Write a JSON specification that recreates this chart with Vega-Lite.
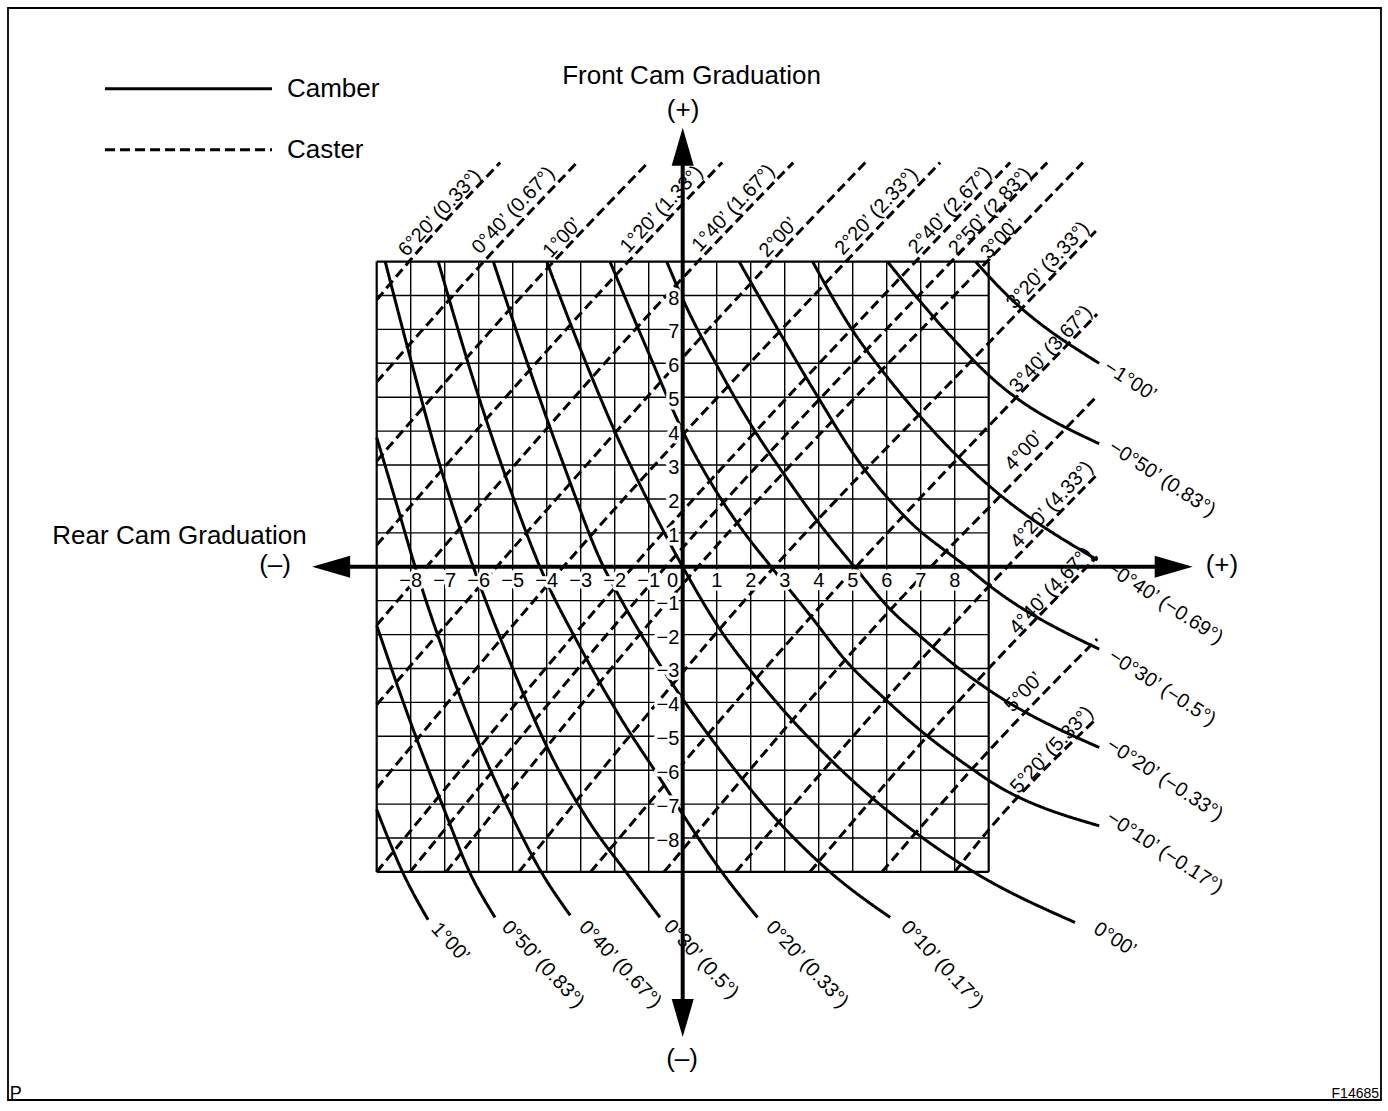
{
"$schema": "https://vega.github.io/schema/vega-lite/v6.json",
"width": 1388, "height": 1111,
"autosize": {"type": "fit", "contains": "padding"},
"padding": {"left": 8, "top": 8, "right": 7, "bottom": 8},
"background": "white",
"config": {"view": {"stroke": "black", "strokeWidth": 1.8}, "text": {"font": "Liberation Sans", "color": "black"}},
"datasets": {
"grid": [{"x":-8,"y":-8},{"x":-7,"y":-7},{"x":-6,"y":-6},{"x":-5,"y":-5},{"x":-4,"y":-4},{"x":-3,"y":-3},{"x":-2,"y":-2},{"x":-1,"y":-1},{"x":0,"y":0},{"x":1,"y":1},{"x":2,"y":2},{"x":3,"y":3},{"x":4,"y":4},{"x":5,"y":5},{"x":6,"y":6},{"x":7,"y":7},{"x":8,"y":8}],
"border": [{"x":-9,"y":-9},{"x":9,"y":9}],
"axes": [{"x":-10.35,"x2":14.45,"y":0,"y2":0},{"x":0,"x2":0,"y":-13.3,"y2":12.4}],
"arrows": [{"x":14.44,"y":0,"d":"r"},{"x":-10.34,"y":0,"d":"l"},{"x":0,"y":12.39,"d":"u"},{"x":0,"y":-13.31,"d":"d"}],
"lines": [
{"s":"L1","k":"Camber","x":-16.99,"y":14.1},{"s":"L1","k":"Camber","x":-12.08,"y":14.1},
{"s":"L2","k":"Caster","x":-16.99,"y":12.3},{"s":"L2","k":"Caster","x":-12.08,"y":12.3},
{"s":"C020","k":"Caster","x":-9,"y":7.87},{"s":"C020","k":"Caster","x":-8.05,"y":9},{"s":"C020","k":"Caster","x":-5.37,"y":11.92},
{"s":"C040","k":"Caster","x":-9,"y":5.45},{"s":"C040","k":"Caster","x":-5.85,"y":9},{"s":"C040","k":"Caster","x":-3.11,"y":11.92},
{"s":"C100","k":"Caster","x":-9,"y":3.12},{"s":"C100","k":"Caster","x":-3.8,"y":9},{"s":"C100","k":"Caster","x":-1.02,"y":11.92},
{"s":"C120","k":"Caster","x":-9,"y":0.64},{"s":"C120","k":"Caster","x":-1.6,"y":9},{"s":"C120","k":"Caster","x":1.16,"y":11.92},
{"s":"C140","k":"Caster","x":-9,"y":-1.72},{"s":"C140","k":"Caster","x":-7.53,"y":0},{"s":"C140","k":"Caster","x":0.45,"y":9},{"s":"C140","k":"Caster","x":3.25,"y":11.92},
{"s":"C200","k":"Caster","x":-9,"y":-4.07},{"s":"C200","k":"Caster","x":-5.47,"y":0},{"s":"C200","k":"Caster","x":2.6,"y":9},{"s":"C200","k":"Caster","x":5.37,"y":11.92},
{"s":"C220","k":"Caster","x":-9,"y":-6.53},{"s":"C220","k":"Caster","x":-3.51,"y":0},{"s":"C220","k":"Caster","x":4.8,"y":9},{"s":"C220","k":"Caster","x":7.57,"y":11.92},
{"s":"C240","k":"Caster","x":-9,"y":-9},{"s":"C240","k":"Caster","x":-1.46,"y":0},{"s":"C240","k":"Caster","x":6.85,"y":9},{"s":"C240","k":"Caster","x":9.63,"y":11.92},
{"s":"C250","k":"Caster","x":-8.02,"y":-9},{"s":"C250","k":"Caster","x":-0.5,"y":0},{"s":"C250","k":"Caster","x":7.9,"y":9},{"s":"C250","k":"Caster","x":10.72,"y":11.92},
{"s":"C300","k":"Caster","x":-6.96,"y":-9},{"s":"C300","k":"Caster","x":0.45,"y":0},{"s":"C300","k":"Caster","x":8.95,"y":9},{"s":"C300","k":"Caster","x":11.77,"y":11.92},
{"s":"C320","k":"Caster","x":-4.82,"y":-9},{"s":"C320","k":"Caster","x":2.7,"y":0},{"s":"C320","k":"Caster","x":9,"y":6.6},{"s":"C320","k":"Caster","x":12.15,"y":9.9},
{"s":"C340","k":"Caster","x":-2.71,"y":-9},{"s":"C340","k":"Caster","x":5.1,"y":0},{"s":"C340","k":"Caster","x":9,"y":4.15},{"s":"C340","k":"Caster","x":12.19,"y":7.45},
{"s":"C400","k":"Caster","x":-0.55,"y":-9},{"s":"C400","k":"Caster","x":7.3,"y":0},{"s":"C400","k":"Caster","x":9,"y":1.74},{"s":"C400","k":"Caster","x":12.19,"y":5.04},
{"s":"C420","k":"Caster","x":1.56,"y":-9},{"s":"C420","k":"Caster","x":9,"y":-0.58},{"s":"C420","k":"Caster","x":12.19,"y":2.72},
{"s":"C440","k":"Caster","x":3.74,"y":-9},{"s":"C440","k":"Caster","x":9,"y":-3.0},{"s":"C440","k":"Caster","x":12.19,"y":0.3},
{"s":"C500","k":"Caster","x":5.86,"y":-9},{"s":"C500","k":"Caster","x":9,"y":-5.43},{"s":"C500","k":"Caster","x":12.19,"y":-2.13},
{"s":"C520","k":"Caster","x":8.0,"y":-9},{"s":"C520","k":"Caster","x":9,"y":-7.76},{"s":"C520","k":"Caster","x":12.19,"y":-4.46},
{"s":"K100","k":"Camber","x":-9,"y":-7.16},{"s":"K100","k":"Camber","x":-8.24,"y":-9},{"s":"K100","k":"Camber","x":-7.49,"y":-10.41},
{"s":"K050","k":"Camber","x":-9,"y":-1.73},{"s":"K050","k":"Camber","x":-8,"y":-4.6},{"s":"K050","k":"Camber","x":-7,"y":-7.2},{"s":"K050","k":"Camber","x":-6.27,"y":-9},{"s":"K050","k":"Camber","x":-5.52,"y":-10.34},
{"s":"K040","k":"Camber","x":-9,"y":3.81},{"s":"K040","k":"Camber","x":-8.4,"y":1.8},{"s":"K040","k":"Camber","x":-7.87,"y":0},{"s":"K040","k":"Camber","x":-7.0,"y":-2.6},{"s":"K040","k":"Camber","x":-6.0,"y":-5.2},{"s":"K040","k":"Camber","x":-5.0,"y":-7.4},{"s":"K040","k":"Camber","x":-4.16,"y":-9},{"s":"K040","k":"Camber","x":-3.31,"y":-10.28},
{"s":"K030","k":"Camber","x":-8.75,"y":9},{"s":"K030","k":"Camber","x":-8.02,"y":6.19},{"s":"K030","k":"Camber","x":-7.09,"y":2.82},{"s":"K030","k":"Camber","x":-6.16,"y":0},{"s":"K030","k":"Camber","x":-5.0,"y":-3.0},{"s":"K030","k":"Camber","x":-3.8,"y":-5.7},{"s":"K030","k":"Camber","x":-2.7,"y":-7.6},{"s":"K030","k":"Camber","x":-1.67,"y":-9},{"s":"K030","k":"Camber","x":-0.67,"y":-10.34},
{"s":"K020","k":"Camber","x":-7.19,"y":9},{"s":"K020","k":"Camber","x":-6.06,"y":5.2},{"s":"K020","k":"Camber","x":-4.98,"y":2.03},{"s":"K020","k":"Camber","x":-4.2,"y":0},{"s":"K020","k":"Camber","x":-3.0,"y":-2.4},{"s":"K020","k":"Camber","x":-1.8,"y":-4.5},{"s":"K020","k":"Camber","x":-0.6,"y":-6.35},{"s":"K020","k":"Camber","x":0,"y":-7.3},{"s":"K020","k":"Camber","x":1.15,"y":-9},{"s":"K020","k":"Camber","x":2.2,"y":-10.34},
{"s":"K010","k":"Camber","x":-5.57,"y":9},{"s":"K010","k":"Camber","x":-4.6,"y":6.1},{"s":"K010","k":"Camber","x":-3.5,"y":3.0},{"s":"K010","k":"Camber","x":-2.33,"y":0},{"s":"K010","k":"Camber","x":-1.94,"y":-0.74},{"s":"K010","k":"Camber","x":-0.81,"y":-2.67},{"s":"K010","k":"Camber","x":0,"y":-3.9},{"s":"K010","k":"Camber","x":0.9,"y":-5.15},{"s":"K010","k":"Camber","x":2.8,"y":-7.5},{"s":"K010","k":"Camber","x":4.33,"y":-9},{"s":"K010","k":"Camber","x":6.1,"y":-10.34},
{"s":"K000","k":"Camber","x":-4.0,"y":9},{"s":"K000","k":"Camber","x":-3.0,"y":6.4},{"s":"K000","k":"Camber","x":-2.0,"y":4.0},{"s":"K000","k":"Camber","x":-1.0,"y":1.9},{"s":"K000","k":"Camber","x":0,"y":0},{"s":"K000","k":"Camber","x":1.0,"y":-1.7},{"s":"K000","k":"Camber","x":2.24,"y":-3.37},{"s":"K000","k":"Camber","x":4.39,"y":-5.73},{"s":"K000","k":"Camber","x":6.93,"y":-7.9},{"s":"K000","k":"Camber","x":8.56,"y":-9},{"s":"K000","k":"Camber","x":11.54,"y":-10.49},
{"s":"Km010","k":"Camber","x":-2.14,"y":9},{"s":"Km010","k":"Camber","x":-1.0,"y":6.3},{"s":"Km010","k":"Camber","x":0,"y":4.0},{"s":"Km010","k":"Camber","x":1.0,"y":2.2},{"s":"Km010","k":"Camber","x":1.86,"y":0.94},{"s":"Km010","k":"Camber","x":2.6,"y":0},{"s":"Km010","k":"Camber","x":3.8,"y":-1.5},{"s":"Km010","k":"Camber","x":4.78,"y":-2.75},{"s":"Km010","k":"Camber","x":5.95,"y":-3.9},{"s":"Km010","k":"Camber","x":7.02,"y":-4.85},{"s":"Km010","k":"Camber","x":8.49,"y":-5.95},{"s":"Km010","k":"Camber","x":9,"y":-6.3},{"s":"Km010","k":"Camber","x":12.25,"y":-7.64},
{"s":"Km020","k":"Camber","x":-0.47,"y":9},{"s":"Km020","k":"Camber","x":0,"y":7.9},{"s":"Km020","k":"Camber","x":1,"y":5.95},{"s":"Km020","k":"Camber","x":2,"y":4.2},{"s":"Km020","k":"Camber","x":3,"y":2.7},{"s":"Km020","k":"Camber","x":4,"y":1.3},{"s":"Km020","k":"Camber","x":5.05,"y":0},{"s":"Km020","k":"Camber","x":6.15,"y":-1.3},{"s":"Km020","k":"Camber","x":6.93,"y":-2.0},{"s":"Km020","k":"Camber","x":8.0,"y":-2.9},{"s":"Km020","k":"Camber","x":9,"y":-3.63},{"s":"Km020","k":"Camber","x":12.25,"y":-5.33},
{"s":"Km030","k":"Camber","x":1.66,"y":9},{"s":"Km030","k":"Camber","x":2.84,"y":6.93},{"s":"Km030","k":"Camber","x":4.01,"y":4.95},{"s":"Km030","k":"Camber","x":5.04,"y":3.3},{"s":"Km030","k":"Camber","x":6.56,"y":1.45},{"s":"Km030","k":"Camber","x":8.34,"y":0},{"s":"Km030","k":"Camber","x":9,"y":-0.54},{"s":"Km030","k":"Camber","x":12.25,"y":-2.43},
{"s":"Km040","k":"Camber","x":3.82,"y":9},{"s":"Km040","k":"Camber","x":4.99,"y":6.98},{"s":"Km040","k":"Camber","x":6.02,"y":5.59},{"s":"Km040","k":"Camber","x":7.05,"y":4.36},{"s":"Km040","k":"Camber","x":8.02,"y":3.32},{"s":"Km040","k":"Camber","x":9,"y":2.4},{"s":"Km040","k":"Camber","x":12.2,"y":0.2},
{"s":"Km050","k":"Camber","x":6.02,"y":9},{"s":"Km050","k":"Camber","x":7.05,"y":7.75},{"s":"Km050","k":"Camber","x":8.02,"y":6.65},{"s":"Km050","k":"Camber","x":9,"y":5.65},{"s":"Km050","k":"Camber","x":12.25,"y":3.63},
{"s":"Km100","k":"Camber","x":8.61,"y":9},{"s":"Km100","k":"Camber","x":9.45,"y":8.1},{"s":"Km100","k":"Camber","x":12.25,"y":6.0}
],
"texts": [
{"g":"title","t":"Front Cam Graduation","x":0.26,"y":14.48},
{"g":"title","t":"(+)","x":0.01,"y":13.48},
{"g":"title","t":"Rear Cam Graduation","x":-14.8,"y":0.92},
{"g":"title","t":"(–)","x":-11.99,"y":0.04},
{"g":"title","t":"(+)","x":15.86,"y":0.04},
{"g":"title","t":"(–)","x":-0.02,"y":-14.52},
{"g":"legend","t":"Camber","x":-11.64,"y":14.1},
{"g":"legend","t":"Caster","x":-11.64,"y":12.3},
{"g":"p","t":"P","x":-19.79,"y":-15.55},
{"g":"f","t":"F14685","x":20.48,"y":-15.55},
{"g":"xt","t":"−8","x":-8,"y":-0.43},{"g":"xt","t":"−7","x":-7,"y":-0.43},{"g":"xt","t":"−6","x":-6,"y":-0.43},{"g":"xt","t":"−5","x":-5,"y":-0.43},{"g":"xt","t":"−4","x":-4,"y":-0.43},{"g":"xt","t":"−3","x":-3,"y":-0.43},{"g":"xt","t":"−2","x":-2,"y":-0.43},{"g":"xt","t":"−1","x":-1,"y":-0.43},{"g":"xt","t":"0","x":-0.3,"y":-0.43},
{"g":"xt","t":"1","x":1,"y":-0.43},{"g":"xt","t":"2","x":2,"y":-0.43},{"g":"xt","t":"3","x":3,"y":-0.43},{"g":"xt","t":"4","x":4,"y":-0.43},{"g":"xt","t":"5","x":5,"y":-0.43},{"g":"xt","t":"6","x":6,"y":-0.43},{"g":"xt","t":"7","x":7,"y":-0.43},{"g":"xt","t":"8","x":8,"y":-0.43},
{"g":"yt","t":"8","x":-0.1,"y":8},{"g":"yt","t":"7","x":-0.1,"y":7},{"g":"yt","t":"6","x":-0.1,"y":6},{"g":"yt","t":"5","x":-0.1,"y":5},{"g":"yt","t":"4","x":-0.1,"y":4},{"g":"yt","t":"3","x":-0.1,"y":3},{"g":"yt","t":"2","x":-0.1,"y":2},{"g":"yt","t":"1","x":-0.1,"y":1},
{"g":"yt","t":"−1","x":-0.1,"y":-1},{"g":"yt","t":"−2","x":-0.1,"y":-2},{"g":"yt","t":"−3","x":-0.1,"y":-3},{"g":"yt","t":"−4","x":-0.1,"y":-4},{"g":"yt","t":"−5","x":-0.1,"y":-5},{"g":"yt","t":"−6","x":-0.1,"y":-6},{"g":"yt","t":"−7","x":-0.1,"y":-7},{"g":"yt","t":"−8","x":-0.1,"y":-8},
{"g":"caster","t":"6°20’ (0.33°)","x":-7.14,"y":10.44},
{"g":"caster","t":"0°40’ (0.67°)","x":-4.98,"y":10.51},
{"g":"caster","t":"1°00’","x":-3.54,"y":9.7},
{"g":"caster","t":"1°20’ (1.33°)","x":-0.62,"y":10.54},
{"g":"caster","t":"1°40’ (1.67°)","x":1.49,"y":10.58},
{"g":"caster","t":"2°00’","x":2.82,"y":9.71},
{"g":"caster","t":"2°20’ (2.33°)","x":5.7,"y":10.48},
{"g":"caster","t":"2°40’ (2.67°)","x":7.86,"y":10.52},
{"g":"caster","t":"2°50’ (2.83°)","x":9.04,"y":10.49},
{"g":"caster","t":"3°00’","x":9.33,"y":9.66},
{"g":"caster","t":"3°20’ (3.33°)","x":10.74,"y":8.89},
{"g":"caster","t":"3°40’ (3.67°)","x":10.83,"y":6.42},
{"g":"caster","t":"4°00’","x":10.04,"y":3.42},
{"g":"caster","t":"4°20’ (4.33°)","x":10.86,"y":1.83},
{"g":"caster","t":"4°40’ (4.67°)","x":10.83,"y":-0.7},
{"g":"caster","t":"5°00’","x":10.04,"y":-3.7},
{"g":"caster","t":"5°20’ (5.33°)","x":10.86,"y":-5.4},
{"g":"camb","t":"1°00’","x":-6.84,"y":-11.08},
{"g":"camb","t":"0°50’ (0.83°)","x":-4.11,"y":-11.73},
{"g":"camb","t":"0°40’ (0.67°)","x":-1.84,"y":-11.73},
{"g":"camb","t":"0°30’ (0.5°)","x":0.54,"y":-11.58},
{"g":"camb","t":"0°20’ (0.33°)","x":3.66,"y":-11.73},
{"g":"camb","t":"0°10’ (0.17°)","x":7.63,"y":-11.73},
{"g":"camr","t":"0°00’","x":12.71,"y":-10.99},
{"g":"camr","t":"−1°00’","x":13.16,"y":5.48},
{"g":"camr","t":"−0°50’ (0.83°)","x":14.1,"y":2.6},
{"g":"camr","t":"−0°40’ (−0.69°)","x":14.18,"y":-1.07},
{"g":"camr","t":"−0°30’ (−0.5°)","x":14.1,"y":-3.57},
{"g":"camr","t":"−0°20’ (−0.33°)","x":14.18,"y":-6.28},
{"g":"camr","t":"−0°10’ (−0.17°)","x":14.18,"y":-8.43}
]
},
"encoding": {
"x": {"field": "x", "type": "quantitative", "scale": {"domain": [-19.844, 20.538], "nice": false, "zero": false}, "axis": null},
"y": {"field": "y", "type": "quantitative", "scale": {"domain": [-15.726, 16.479], "nice": false, "zero": false}, "axis": null}
},
"layer": [
{"data": {"name": "grid"}, "mark": {"type": "rule", "color": "black", "strokeWidth": 1.4},
 "encoding": {"y": {"datum": -9, "type": "quantitative", "scale": {"domain": [-15.726, 16.479], "nice": false, "zero": false}}, "y2": {"datum": 9}}},
{"data": {"name": "grid"}, "mark": {"type": "rule", "color": "black", "strokeWidth": 1.4},
 "encoding": {"x": {"datum": -9, "type": "quantitative", "scale": {"domain": [-19.844, 20.538], "nice": false, "zero": false}}, "x2": {"datum": 9}}},
{"data": {"name": "border"}, "mark": {"type": "rule", "color": "black", "strokeWidth": 2.2},
 "encoding": {"y": {"datum": -9, "type": "quantitative", "scale": {"domain": [-15.726, 16.479], "nice": false, "zero": false}}, "y2": {"datum": 9}}},
{"data": {"name": "border"}, "mark": {"type": "rule", "color": "black", "strokeWidth": 2.2},
 "encoding": {"x": {"datum": -9, "type": "quantitative", "scale": {"domain": [-19.844, 20.538], "nice": false, "zero": false}}, "x2": {"datum": 9}}},
{"data": {"name": "lines"}, "mark": {"type": "line", "interpolate": "monotone", "color": "black", "strokeWidth": 3, "strokeCap": "butt"},
 "encoding": {"detail": {"field": "s"}, "strokeDash": {"field": "k", "type": "nominal", "scale": {"domain": ["Camber", "Caster"], "range": [[1, 0], [10, 5]]}, "legend": null}}},
{"data": {"name": "texts"}, "transform": [{"filter": "datum.g === 'xt'"}],
 "mark": {"type": "text", "fontSize": 20, "align": "center", "baseline": "middle", "fill": "white", "stroke": "white", "strokeWidth": 7, "strokeJoin": "round"},
 "encoding": {"text": {"field": "t"}}},
{"data": {"name": "texts"}, "transform": [{"filter": "datum.g === 'yt'"}],
 "mark": {"type": "text", "fontSize": 20, "align": "right", "baseline": "middle", "dy": 3, "fill": "white", "stroke": "white", "strokeWidth": 7, "strokeJoin": "round"},
 "encoding": {"text": {"field": "t"}}},
{"data": {"name": "texts"}, "transform": [{"filter": "datum.g === 'xt'"}],
 "mark": {"type": "text", "fontSize": 20, "align": "center", "baseline": "middle", "color": "black"},
 "encoding": {"text": {"field": "t"}}},
{"data": {"name": "texts"}, "transform": [{"filter": "datum.g === 'yt'"}],
 "mark": {"type": "text", "fontSize": 20, "align": "right", "baseline": "middle", "dy": 3, "color": "black"},
 "encoding": {"text": {"field": "t"}}},
{"data": {"name": "axes"}, "mark": {"type": "rule", "color": "black", "strokeWidth": 4},
 "encoding": {"x2": {"field": "x2"}, "y2": {"field": "y2"}}},
{"data": {"name": "arrows"}, "mark": {"type": "point", "filled": true, "color": "black", "opacity": 1, "size": 1444},
 "encoding": {"shape": {"field": "d", "type": "nominal", "scale": {"domain": ["r", "l", "u", "d"], "range": ["M1,0L-1,-0.58L-1,0.58Z", "M-1,0L1,-0.58L1,0.58Z", "M0,-1L0.58,1L-0.58,1Z", "M0,1L0.58,-1L-0.58,-1Z"]}, "legend": null}}},
{"data": {"name": "texts"}, "transform": [{"filter": "datum.g === 'title'"}],
 "mark": {"type": "text", "fontSize": 26, "align": "center", "baseline": "middle", "color": "black"},
 "encoding": {"text": {"field": "t"}}},
{"data": {"name": "texts"}, "transform": [{"filter": "datum.g === 'legend'"}],
 "mark": {"type": "text", "fontSize": 26, "align": "left", "baseline": "middle", "color": "black"},
 "encoding": {"text": {"field": "t"}}},
{"data": {"name": "texts"}, "transform": [{"filter": "datum.g === 'p'"}],
 "mark": {"type": "text", "fontSize": 18, "align": "left", "baseline": "middle", "color": "black"},
 "encoding": {"text": {"field": "t"}}},
{"data": {"name": "texts"}, "transform": [{"filter": "datum.g === 'f'"}],
 "mark": {"type": "text", "fontSize": 14, "align": "right", "baseline": "middle", "color": "black"},
 "encoding": {"text": {"field": "t"}}},
{"data": {"name": "texts"}, "transform": [{"filter": "datum.g === 'caster'"}],
 "mark": {"type": "text", "fontSize": 20, "align": "center", "baseline": "middle", "angle": -47, "color": "black"},
 "encoding": {"text": {"field": "t"}}},
{"data": {"name": "texts"}, "transform": [{"filter": "datum.g === 'camb'"}],
 "mark": {"type": "text", "fontSize": 20, "align": "center", "baseline": "middle", "angle": 47, "color": "black"},
 "encoding": {"text": {"field": "t"}}},
{"data": {"name": "texts"}, "transform": [{"filter": "datum.g === 'camr'"}],
 "mark": {"type": "text", "fontSize": 20, "align": "center", "baseline": "middle", "angle": 33, "color": "black"},
 "encoding": {"text": {"field": "t"}}}
]
}
